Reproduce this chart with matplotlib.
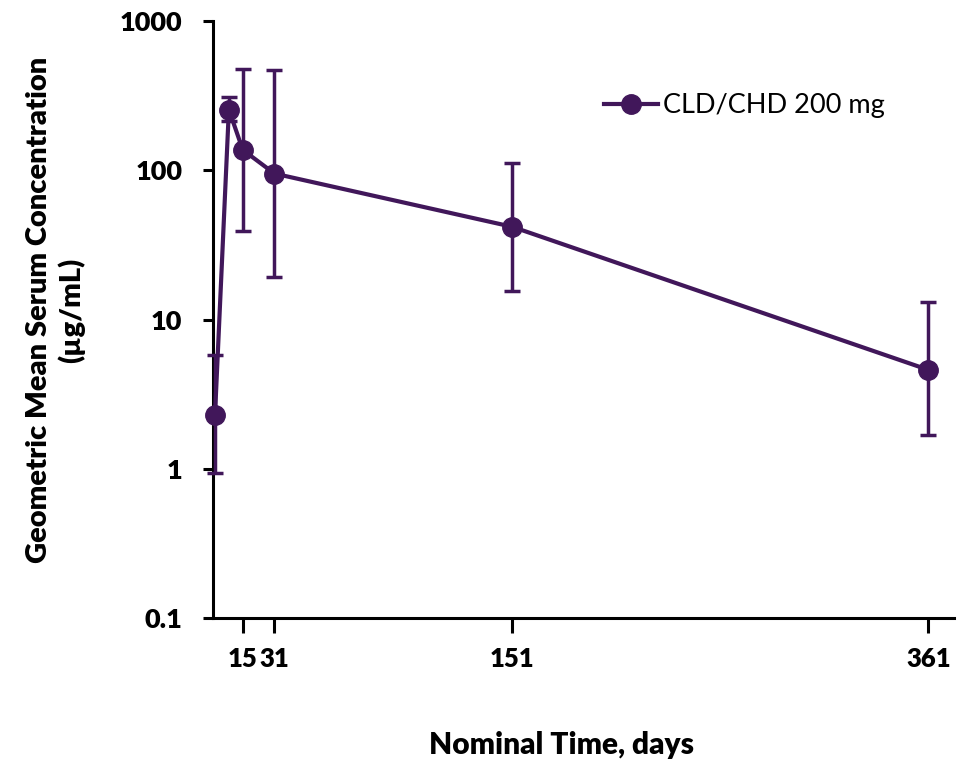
import matplotlib.pyplot as plt
from matplotlib.lines import Line2D
import numpy as np

plt.rcParams['font.family'] = ['Lato', 'DejaVu Sans']

days = [1, 8, 15, 31, 151, 361]
gmean = [2.3, 255, 137, 95, 41.8, 4.6]
upper = [5.8, 310, 480, 470, 112, 13.0]
lower = [0.94, 215, 39, 19.3, 15.6, 1.68]
xticks = [15, 31, 151, 361]
yticks = [0.1, 1, 10, 100, 1000]

gmean = np.array(gmean)
err = [gmean - np.array(lower), np.array(upper) - gmean]

col = '#41175a'

fig = plt.figure(figsize=(9.79, 7.61), dpi=100)
ax = fig.add_axes([0.2176, 0.1879, 0.7569, 0.7845])

ax.errorbar(days, gmean, yerr=err, color=col, lw=3, marker='o', ms=14,
            elinewidth=2.5, capsize=6, capthick=2.5,
            clip_on=False, zorder=3)

ax.set_yscale('log')
ax.set_ylim(0.1, 1000)
ax.set_xlim(0, 374)
ax.set_yticks(yticks)
ax.set_yticklabels(['0.1', '1', '10', '100', '1000'])
ax.yaxis.set_minor_locator(plt.NullLocator())
ax.set_xticks(xticks)
ax.set_xticklabels([str(t) for t in xticks])

for s in ['top', 'right']:
    ax.spines[s].set_visible(False)
for s in ['left', 'bottom']:
    ax.spines[s].set_linewidth(2.2)
ax.tick_params(axis='y', direction='out', length=7, width=2.2, labelsize=19.5, pad=15)
ax.tick_params(axis='x', direction='out', length=11, width=2.2, labelsize=18.5, pad=10)
for lab in ax.get_xticklabels() + ax.get_yticklabels():
    lab.set_fontweight('heavy')

ax.set_xlabel('Nominal Time, days', fontsize=21.5, fontweight='heavy')
ax.set_ylabel('Geometric Mean Serum Concentration\n(µg/mL)', fontsize=21,
              fontweight='heavy', linespacing=1.25)
ax.xaxis.set_label_coords(0.47, -0.19)
ax.yaxis.set_label_coords(-0.172, 0.516)

handle = Line2D([], [], color=col, lw=3, marker='o', ms=14)
leg = ax.legend([handle], ['CLD/CHD 200 mg'], loc='upper right',
                bbox_to_anchor=(0.94, 0.92), frameon=False,
                fontsize=19.5, handlelength=2.0, handletextpad=0.2)

fig.savefig('out.png', dpi=100)
